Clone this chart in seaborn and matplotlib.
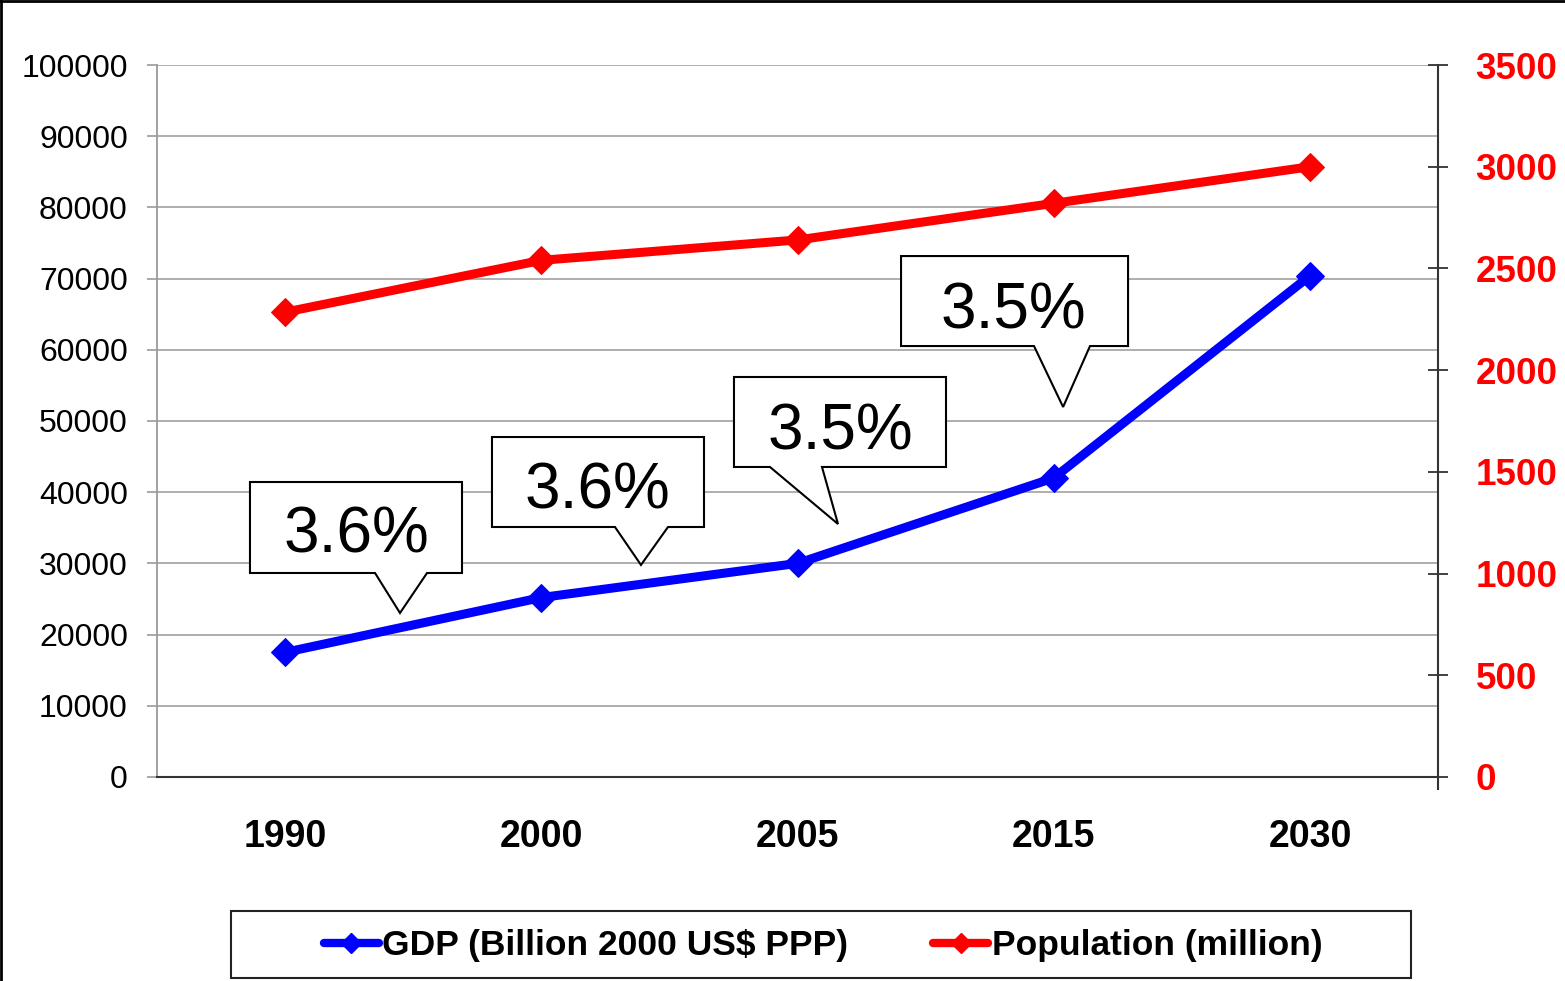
import numpy as np
import pandas as pd
import matplotlib
matplotlib.use("Agg")
import matplotlib.pyplot as plt
from matplotlib.patches import Polygon, Rectangle
from matplotlib.lines import Line2D
import seaborn as sns

# ---- data ----
years = ["1990", "2000", "2005", "2015", "2030"]
gdp = [17500, 25200, 30000, 42000, 70400]          # Billion 2000 US$ PPP
population = [2285, 2540, 2640, 2820, 3000]        # million
growth_labels = ["3.6%", "3.6%", "3.5%", "3.5%"]
gdp_ticks = list(range(0, 100001, 10000))
pop_ticks = list(range(0, 3501, 500))
series_names = ["GDP (Billion 2000 US$ PPP)", "Population (million)"]

sns.set_style("white")
plt.rcParams["font.family"] = ["Liberation Sans", "DejaVu Sans"]
plt.rcParams["text.color"] = "black"

BLUE = "#0000FF"
RED = "#FF0000"

fig = plt.figure(figsize=(15.65, 9.81), dpi=100)
ax = fig.add_axes([0.1003, 0.2080, 0.8186, 0.7257])
ax2 = ax.twinx()

df = pd.DataFrame({"year": years, "gdp": gdp, "pop": population})

sns.lineplot(data=df, x="year", y="gdp", ax=ax, color=BLUE, lw=6.5,
             marker="D", markersize=14.5, markeredgecolor=BLUE, sort=False,
             legend=False, zorder=5)
sns.lineplot(data=df, x="year", y="pop", ax=ax2, color=RED, lw=6.5,
             marker="D", markersize=14.5, markeredgecolor=RED, sort=False,
             legend=False, zorder=5)

# ---- axes styling ----
ax.set_xlim(-0.5, 4.5)
ax.set_ylim(0, 100000)
ax2.set_ylim(0, 3500)
ax.set_xlabel("")
ax.set_ylabel("")
ax2.set_xlabel("")
ax2.set_ylabel("")

ax.set_yticks(gdp_ticks)
ax.set_yticklabels([str(v) for v in gdp_ticks])
ax2.set_yticks(pop_ticks)
ax2.set_yticklabels([str(v) for v in pop_ticks])

ax.set_xticks(range(len(years)))
ax.set_xticklabels(years, fontsize=27, fontweight="bold")
ax.set_xticks(np.arange(-0.5, len(years), 1.0), minor=True)
ax.tick_params(axis="x", which="major", length=0, pad=30, labelcolor="black")
ax.tick_params(axis="x", which="minor", length=8, width=1.3,
               color="#333333", direction="out")

ax.tick_params(axis="y", which="major", length=7, width=1.2,
               color="#999999", direction="out", pad=14, labelsize=23,
               labelcolor="black")
ax2.tick_params(axis="y", which="major", length=14, width=1.3,
                color="#333333", direction="inout", pad=20, labelsize=26.5,
                labelcolor=RED)
for lab in ax2.get_yticklabels():
    lab.set_fontweight("bold")

ax.yaxis.grid(True, color="#a8a8a8", lw=1.3)
ax.xaxis.grid(False)
ax2.grid(False)

for a in (ax, ax2):
    a.spines["top"].set_visible(False)
ax.spines["left"].set_color("#9a9a9a")
ax.spines["left"].set_linewidth(1.3)
ax.spines["bottom"].set_color("#333333")
ax.spines["bottom"].set_linewidth(1.5)
ax.spines["right"].set_visible(False)
ax2.spines["left"].set_visible(False)
ax2.spines["bottom"].set_visible(False)
ax2.spines["right"].set_color("#333333")
ax2.spines["right"].set_linewidth(1.5)
ax2.spines["right"].set_bounds(-60, 3500)

# ---- growth-rate callouts (axes fraction geometry) ----
callouts = [
    # (x0, x1, ybot, ytop, tail_left, tail_right, tip_x, tip_y, text_x, text_base)
    (0.0726, 0.2381, 0.2865, 0.4143, 0.1702, 0.2108, 0.1897, 0.2303, 0.1553, 0.3146),
    (0.2615, 0.4270, 0.3511, 0.4775, 0.3575, 0.3989, 0.3778, 0.2978, 0.3439, 0.3764),
    (0.4504, 0.6159, 0.4354, 0.5618, 0.4785, 0.5191, 0.5316, 0.3553, 0.5332, 0.4593),
    (0.5808, 0.7580, 0.6053, 0.7317, 0.6846, 0.7283, 0.7073, 0.5197, 0.6686, 0.6306),
]
for label, (x0, x1, yb, yt, tl, tr, tx, ty, lx, ly) in zip(growth_labels, callouts):
    verts = [(x0, yt), (x1, yt), (x1, yb), (tr, yb), (tx, ty), (tl, yb), (x0, yb)]
    poly = Polygon(verts, closed=True, facecolor="white", edgecolor="black",
                   lw=1.5, transform=ax2.transAxes, zorder=10, clip_on=False,
                   joinstyle="miter")
    ax2.add_patch(poly)
    ax2.text(lx, ly, label, transform=ax2.transAxes, fontsize=46,
             ha="center", va="baseline", color="black", zorder=11)

# ---- legend ----
handles = [
    Line2D([], [], color=BLUE, lw=6, marker="D", markersize=10,
           markeredgecolor=BLUE),
    Line2D([], [], color=RED, lw=6, marker="D", markersize=10,
           markeredgecolor=RED),
]
leg = fig.legend(handles, series_names, loc="center",
                 bbox_to_anchor=(823 / 1565, 1 - 946 / 981), ncol=2,
                 frameon=False, handlelength=1.55, handletextpad=0.1,
                 columnspacing=2.4,
                 prop={"size": 25.5, "weight": "bold"})
for t in leg.get_texts():
    t.set_color("black")
fig.patches.append(Rectangle((231 / 1565, 3 / 981), 1180 / 1565, 67 / 981,
                             transform=fig.transFigure, fill=False,
                             edgecolor="#222222", lw=1.5))

# figure frame (top and left edges)
fig.add_artist(Line2D([0, 1], [0.999, 0.999], transform=fig.transFigure,
                      color="black", lw=2))
fig.add_artist(Line2D([0.0008, 0.0008], [0, 1], transform=fig.transFigure,
                      color="black", lw=2))

fig.savefig("out.png", dpi=100, facecolor="white")
